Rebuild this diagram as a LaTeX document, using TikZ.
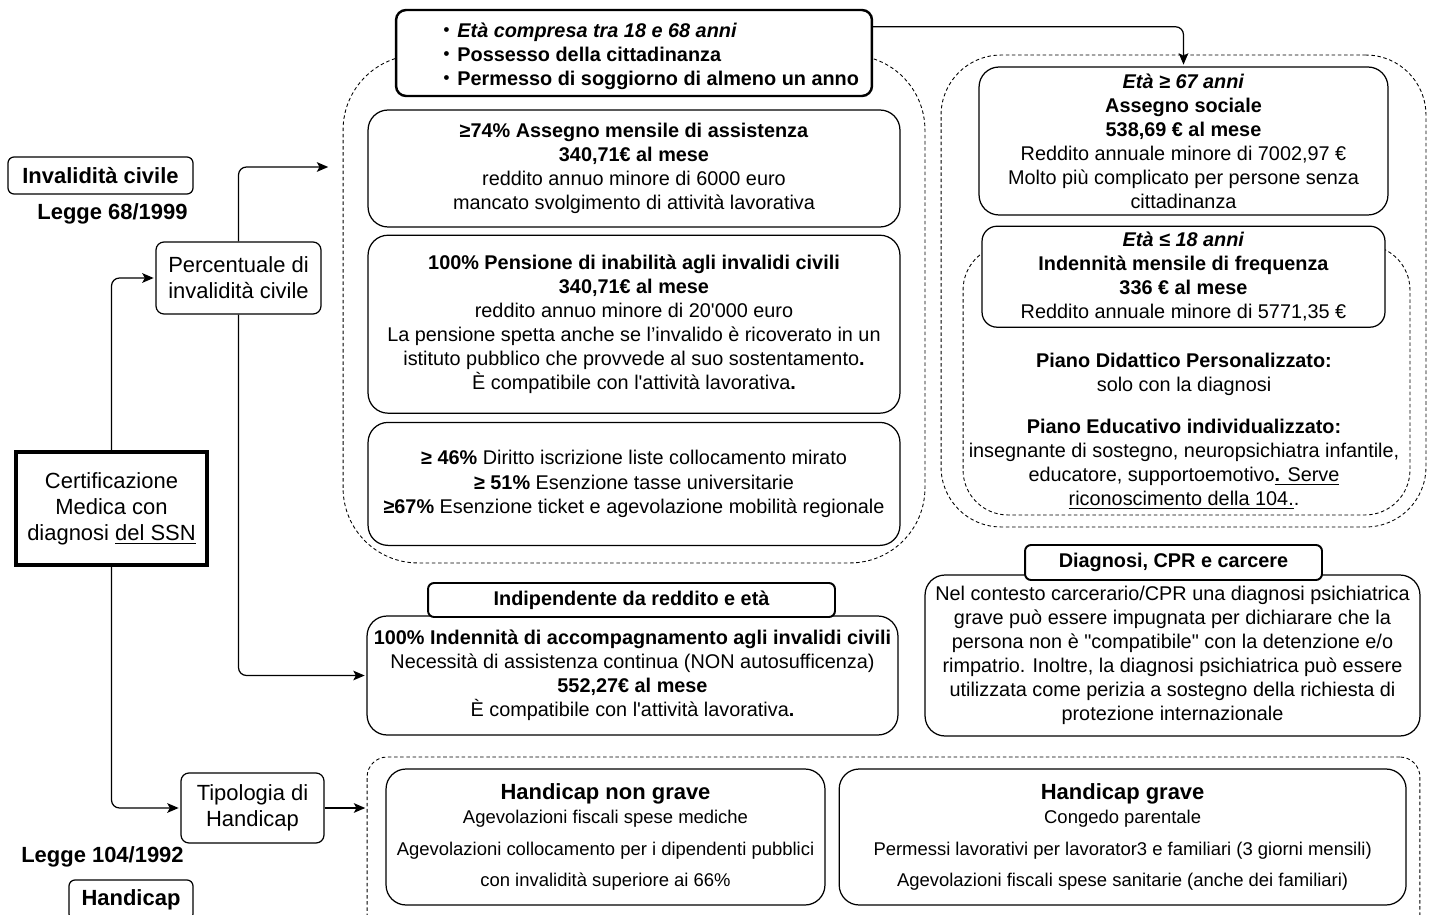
\documentclass[tikz,border=0pt]{standalone}
\usepackage{fontspec}
\setmainfont{Liberation Sans}
\usepackage{tikz}
\usetikzlibrary{arrows.meta}
\usetikzlibrary{positioning}

\newcommand{\fmain}{\fontsize{11.3}{13.7}\selectfont}
\newcommand{\fbig}{\fontsize{12.5}{14.8}\selectfont}
\newcommand{\fsmall}{\fontsize{10.5}{13.7}\selectfont}
\newcommand{\critdot}{\raisebox{0.07em}{\fontsize{9.5}{9.5}\selectfont\textbullet}\hspace{0.4em}}

\begin{document}
\begin{tikzpicture}[x=0.02cm,y=-0.02cm,>={Stealth[length=6.5pt,width=5.5pt,inset=1.5pt]},shorten >=1pt,
                    font=\fmain,line width=0.7pt,
                    box/.style={draw,fill=white,rounded corners=0.4cm,align=center,inner sep=2pt},
                    small box/.style={draw,fill=white,rounded corners=0.16cm,align=center,inner sep=2pt,font=\fbig},
                    title box/.style={draw,fill=white,line width=1.1pt,rounded corners=0.12cm,inner sep=2pt,font=\fmain\bfseries},
                    group/.style={draw,dash pattern=on 2pt off 1.5pt,line width=0.5pt,rounded corners=#1},
                    vh/.style={to path={|- (\tikztotarget)}},
                    hv/.style={to path={-| (\tikztotarget)}}]

  \useasboundingbox (0,0) rectangle (1432,915);
  \clip (0,0) rectangle (1432,915);

  % dashed groups
  \node[group=1.5cm,minimum width=11.64cm,minimum height=10.16cm] (lgrp) at (634,309) {};
  \node[group=1.2cm,minimum width=9.7cm,minimum height=9.44cm] (rgrp) at (1183.5,291) {};
  \node[group=0.9cm,minimum width=8.94cm,minimum height=5.4cm] (pgrp) at (1186.5,380) {};
  \node[group=0.4cm,minimum width=21.06cm,minimum height=3.56cm] (hgrp) at (893.5,846) {};

  % left column
  \node[small box,font=\fbig\bfseries,rounded corners=0.12cm,minimum width=3.7cm,minimum height=0.74cm] (inv) at (100.5,175.5) {Invalidità civile};
  \node[font=\fbig\bfseries] (L68) at (112.5,214) {Legge 68/1999};
  \node[small box,minimum width=3.3cm,minimum height=1.44cm] (perc) at (238.5,278) {Percentuale di\\invalidità civile};
  \node[draw,fill=white,line width=2pt,align=center,font=\fbig,minimum width=3.82cm,minimum height=2.26cm] (cert) at (111.5,508.5) {Certificazione\\Medica con\\diagnosi \underline{del SSN}};
  \node[small box,minimum width=2.86cm,minimum height=1.4cm] (tip) at (252.5,808) {Tipologia di\\Handicap};
  \node[font=\fbig\bfseries] (L104) at (102.5,857) {Legge 104/1992};
  \node[small box,font=\fbig\bfseries,rounded corners=0.12cm,minimum width=2.48cm,minimum height=0.8cm] (hand) at (131,900) {Handicap};

  % middle column
  \node[draw,fill=white,line width=1.4pt,rounded corners=0.2cm,minimum width=9.52cm,minimum height=1.72cm] (crit) at (634,53) {};
  \node[anchor=west,align=left,inner sep=0pt,font=\fmain\bfseries] (critlist) at (443,56)
       {\critdot\textit{Età compresa tra 18 e 68 anni}\\
        \critdot Possesso della cittadinanza\\
        \critdot Permesso di soggiorno di almeno un anno};
  \node[box,minimum width=10.64cm,minimum height=2.34cm] (A74) at (634,168.5)
       {\textbf{≥74\% Assegno mensile di assistenza}\\
        \textbf{340,71€ al mese}\\
        reddito annuo minore di 6000 euro\\
        mancato svolgimento di attività lavorativa};
  \node[box,minimum width=10.64cm,minimum height=3.56cm] (P100) [below=0.14cm of A74]
       {\textbf{100\% Pensione di inabilità agli invalidi civili}\\
        \textbf{340,71€ al mese}\\
        reddito annuo minore di 20\textquotesingle000 euro\\
        La pensione spetta anche se l’invalido è ricoverato in un\\
        istituto pubblico che provvede al suo sostentamento\textbf{.}\\
        È compatibile con l\textquotesingle attività lavorativa\textbf{.}};
  \node[box,minimum width=10.64cm,minimum height=2.46cm] (D46) [below=0.16cm of P100]
       {\textbf{≥ 46\%} Diritto iscrizione liste collocamento mirato\\
        \textbf{≥ 51\%} Esenzione tasse universitarie\\
        \textbf{≥67\%} Esenzione ticket e agevolazione mobilità regionale};
  \node[box,minimum width=10.62cm,minimum height=2.38cm] (I100) at (632.5,675.5)
       {\textbf{100\% Indennità di accompagnamento agli invalidi civili}\\
        Necessità di assistenza continua (NON autosufficenza)\\
        \textbf{552,27€ al mese}\\
        È compatibile con l\textquotesingle attività lavorativa\textbf{.}};
  \node[title box,minimum width=8.14cm,minimum height=0.68cm] (indep) at (631.5,600) {Indipendente da reddito e età};

  % right column
  \node[box,minimum width=8.18cm,minimum height=2.96cm] (AS) at (1183.5,141)
       {\textbf{\textit{Età ≥ 67 anni}}\\
        \textbf{Assegno sociale}\\
        \textbf{538,69 € al mese}\\
        Reddito annuale minore di 7002,97 €\\
        Molto più complicato per persone senza\\
        cittadinanza};
  \node[box,rounded corners=0.3cm,minimum width=8.06cm,minimum height=2.02cm] (F18) [below=0.2cm of AS]
       {\textbf{\textit{Età ≤ 18 anni}}\\
        \textbf{Indennità mensile di frequenza}\\
        \textbf{336 € al mese}\\
        Reddito annuale minore di 5771,35 €};
  \node[align=center] (pei) at (1184,431)
       {\textbf{Piano Didattico Personalizzato:}\\
        solo con la diagnosi\\[10pt]
        \textbf{Piano Educativo individualizzato:}\\
        insegnante di sostegno, neuropsichiatra infantile,\\
        educatore, supportoemotivo\underline{\textbf{.} Serve}\\
        \underline{riconoscimento della 104.}.};
  \node[box,minimum width=9.9cm,minimum height=3.22cm] (cpr) at (1172.5,655.5)
       {Nel contesto carcerario/CPR una diagnosi psichiatrica\\
        grave può essere impugnata per dichiarare che la\\
        persona non è \textquotedbl compatibile\textquotedbl\ con la detenzione e/o\\
        rimpatrio. Inoltre, la diagnosi psichiatrica può essere\\
        utilizzata come perizia a sostegno della richiesta di\\
        protezione internazionale};
  \node[title box,minimum width=5.94cm,minimum height=0.7cm] (cprt) at (1173.5,562.5) {Diagnosi, CPR e carcere};

  % handicap
  \node[box,font=\fsmall,minimum width=8.78cm,minimum height=2.72cm] (HN) at (605.5,837)
       {{\fbig\bfseries Handicap non grave}\\
        Agevolazioni fiscali spese mediche\\[4pt]
        Agevolazioni collocamento per i dipendenti pubblici\\[4pt]
        con invalidità superiore ai 66\%};
  \node[box,font=\fsmall,minimum width=11.34cm,minimum height=2.72cm] (HG) [right=0.26cm of HN]
       {{\fbig\bfseries Handicap grave}\\
        Congedo parentale\\[4pt]
        Permessi lavorativi per lavorator3 e familiari (3 giorni mensili)\\[4pt]
        Agevolazioni fiscali spese sanitarie (anche dei familiari)};

  \coordinate (invin) at (330,167);
  \coordinate (hin) at (367,808);

  \path[->,rounded corners=0.16cm]
  	(cert) edge[vh] (perc)
  	       edge[vh] (tip)
  	(perc) edge[vh] (invin)
  	       edge[vh] (I100)
  	(tip) edge (hin)
  	([yshift=-0.36cm]crit.north east) edge[hv] (AS);
\end{tikzpicture}
\end{document}
